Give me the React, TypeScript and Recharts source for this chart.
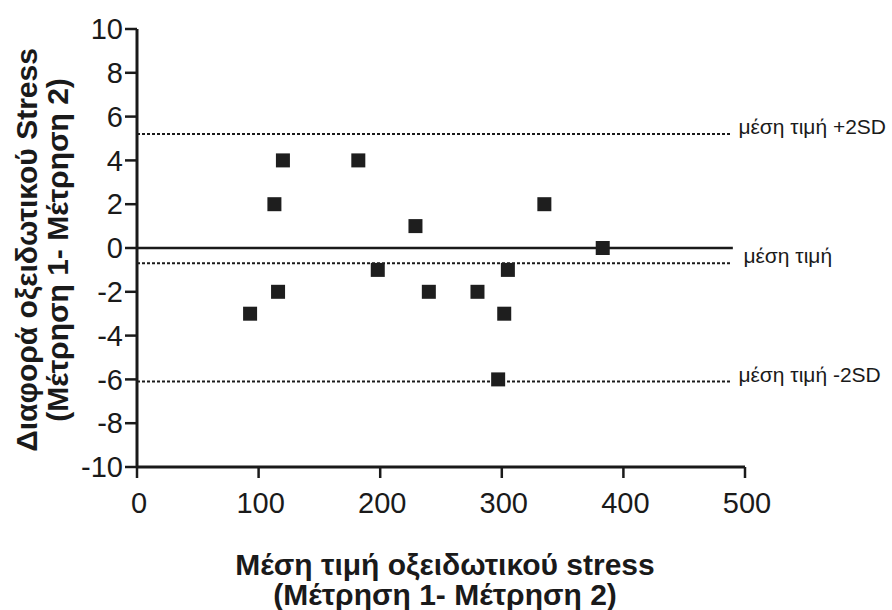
import React from "react";
import {
  ScatterChart,
  Scatter,
  XAxis,
  YAxis,
  ReferenceLine,
} from "recharts";

// mean of the two measurements (x) and their difference (y)
const meanValues = [93, 113, 116, 120, 182, 198, 229, 240, 280, 297, 302, 305, 335, 383];
const diffValues = [-3, 2, -2, 4, 4, -1, 1, -2, -2, -6, -3, -1, 2, 0];

const xTicks = [0, 100, 200, 300, 400, 500];
const yTicks = [-10, -8, -6, -4, -2, 0, 2, 4, 6, 8, 10];

const upperLimit = 5.2;
const meanDiff = -0.7;
const lowerLimit = -6.1;
const limitLineEnd = 488;
const zeroLineEnd = 490;

const upperLabel = "μέση τιμή +2SD";
const meanLabel = "μέση τιμή";
const lowerLabel = "μέση τιμή -2SD";

const xTitle = ["Μέση τιμή οξειδωτικού stress", "(Μέτρηση 1- Μέτρηση 2)"];
const yTitle = ["Διαφορά οξειδωτικού Stress", "(Μέτρηση 1- Μέτρηση 2)"];

const points = meanValues.map((x, i) => ({ x, y: diffValues[i] }));

const FONT = "'Liberation Sans', Arial, sans-serif";
const INK = "#1a1a1a";

const SquareDot = (props: any) => {
  const { cx, cy } = props;
  if (cx == null || cy == null) return null;
  return <rect x={cx - 7} y={cy - 7} width={14} height={14} fill="#1e1e1e" />;
};

const YTick = (props: any) => {
  const { x, y, payload } = props;
  return (
    <text x={x} y={y} dy="0.355em" textAnchor="end" fontSize={29} fontFamily={FONT} fill={INK}>
      {payload.value}
    </text>
  );
};

const XTick = (props: any) => {
  const { x, y, payload } = props;
  return (
    <text x={x + 2} y={y} dy="0.71em" textAnchor="middle" fontSize={29} fontFamily={FONT} fill={INK}>
      {payload.value}
    </text>
  );
};

const XTitle = (props: any) => {
  const { viewBox } = props;
  const cx = viewBox.x + viewBox.width / 2 + 4;
  return (
    <g>
      {xTitle.map((line, i) => (
        <text
          key={i}
          x={cx}
          y={viewBox.y + 108 + i * 30}
          textAnchor="middle"
          fontSize={30}
          fontWeight="bold"
          fontFamily={FONT}
          fill={INK}
        >
          {line}
        </text>
      ))}
    </g>
  );
};

const YTitle = (props: any) => {
  const { viewBox } = props;
  const cy = viewBox.y + viewBox.height / 2 + 2;
  return (
    <g>
      {yTitle.map((line, i) => {
        const x = 37 + i * 31;
        return (
          <text
            key={i}
            x={x}
            y={cy}
            transform={`rotate(-90, ${x}, ${cy})`}
            textAnchor="middle"
            fontSize={30}
            fontWeight="bold"
            fontFamily={FONT}
            fill={INK}
          >
            {line}
          </text>
        );
      })}
    </g>
  );
};

const lineLabel = (text: string, gap: number) => (props: any) => {
  const { viewBox } = props;
  if (!viewBox) return null;
  return (
    <text
      x={viewBox.x + viewBox.width + gap}
      y={viewBox.y}
      fontSize={21}
      fontFamily={FONT}
      fill={INK}
    >
      {text}
    </text>
  );
};

export default function App() {
  return (
    <div style={{ position: "absolute", left: 0, top: 0, background: "#fff" }}>
      <ScatterChart
        width={892}
        height={610}
        margin={{ top: 29, right: 147, bottom: 103, left: 77 }}
      >
        <XAxis
          type="number"
          dataKey="x"
          domain={[0, 500]}
          ticks={xTicks}
          interval={0}
          height={40}
          axisLine={{ stroke: INK, strokeWidth: 3 }}
          tickLine={{ stroke: INK, strokeWidth: 2.5 }}
          tickSize={11}
          tickMargin={14}
          tick={<XTick />}
          label={{ content: <XTitle /> }}
        />
        <YAxis
          type="number"
          dataKey="y"
          domain={[-10, 10]}
          ticks={yTicks}
          interval={0}
          width={60}
          axisLine={{ stroke: INK, strokeWidth: 3 }}
          tickLine={{ stroke: INK, strokeWidth: 2.5 }}
          tickSize={12}
          tickMargin={2}
          tick={<YTick />}
          label={{ content: <YTitle /> }}
        />
        <ReferenceLine
          segment={[{ x: 0, y: 0 }, { x: zeroLineEnd, y: 0 }]}
          stroke={INK}
          strokeWidth={2.5}
        />
        <ReferenceLine
          segment={[{ x: 0, y: upperLimit }, { x: limitLineEnd, y: upperLimit }]}
          stroke={INK}
          strokeWidth={2}
          strokeDasharray="3 2"
          label={{ content: lineLabel(upperLabel, 8) }}
        />
        <ReferenceLine
          segment={[{ x: 0, y: meanDiff }, { x: limitLineEnd, y: meanDiff }]}
          stroke={INK}
          strokeWidth={2}
          strokeDasharray="3 2"
          label={{ content: lineLabel(meanLabel, 13) }}
        />
        <ReferenceLine
          segment={[{ x: 0, y: lowerLimit }, { x: limitLineEnd, y: lowerLimit }]}
          stroke={INK}
          strokeWidth={2}
          strokeDasharray="3 2"
          label={{ content: lineLabel(lowerLabel, 8) }}
        />
        <Scatter data={points} shape={<SquareDot />} isAnimationActive={false} />
      </ScatterChart>
    </div>
  );
}
